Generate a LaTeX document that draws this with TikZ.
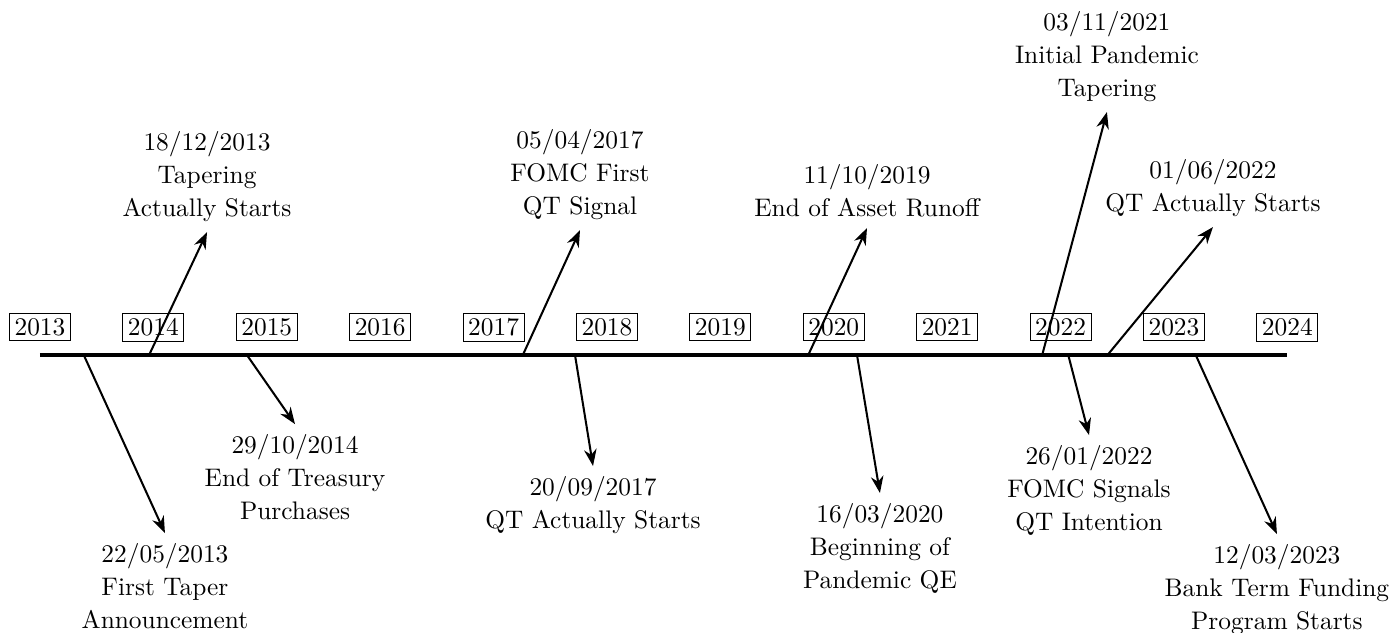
\documentclass[tikz,border=0pt]{standalone}
\usepackage{tikz}
\usetikzlibrary{arrows.meta}

\begin{document}
\begin{tikzpicture}[
  x=44.65pt, y=1pt,
  yr/.style={draw,inner sep=2pt,font=\fontsize{10}{13}\selectfont},
  ev/.style={align=center,inner sep=4pt,font=\fontsize{10}{13}\selectfont},
  axis/.style={line width=1.6pt},
  arr/.style={-{Stealth},thick}
]
\useasboundingbox (-0.3527,-109.1) rectangle (11.923,139.8);
% years
\node[yr] (y2013) at (0,11) {2013};
\node[yr] (y2014) at (1,11) {2014};
\node[yr] (y2015) at (2,11) {2015};
\node[yr] (y2016) at (3,11) {2016};
\node[yr] (y2017) at (4,11) {2017};
\node[yr] (y2018) at (5,11) {2018};
\node[yr] (y2019) at (6,11) {2019};
\node[yr] (y2020) at (7,11) {2020};
\node[yr] (y2021) at (8,11) {2021};
\node[yr] (y2022) at (9,11) {2022};
\node[yr] (y2023) at (10,11) {2023};
\node[yr] (y2024) at (11,11) {2024};
\draw[axis] (0,0) -- (11,0);
% dates on the line
\coordinate (d1) at (0.386,0);
\coordinate (d2) at (0.962,0);
\coordinate (d3) at (1.825,0);
\coordinate (d4) at (4.258,0);
\coordinate (d5) at (4.718,0);
\coordinate (d6) at (6.775,0);
\coordinate (d7) at (7.205,0);
\coordinate (d8) at (8.838,0);
\coordinate (d9) at (9.068,0);
\coordinate (d10) at (9.414,0);
\coordinate (d11) at (10.192,0);
% events below
\node[ev,anchor=north] (announce) at (1.102,-70.1) {22/05/2013\\First Taper\\Announcement};
\node[ev,anchor=north] (treasury) at (2.249,-27.2) {29/10/2014\\End of Treasury\\Purchases};
\node[ev,anchor=north] (qtstart) at (4.877,-43.7) {20/09/2017\\QT Actually Starts};
\node[ev,anchor=north] (pandqe) at (7.407,-54.3) {16/03/2020\\Beginning of\\Pandemic QE};
\node[ev,anchor=north] (qtintent) at (9.251,-31.5) {26/01/2022\\FOMC Signals\\QT Intention};
\node[ev,anchor=north] (btfp) at (10.908,-70.5) {12/03/2023\\Bank Term Funding\\Program Starts};
% events above
\node[ev,anchor=south] (taper) at (1.473,48.4) {18/12/2013\\Tapering\\Actually Starts};
\node[ev,anchor=south] (qtsignal) at (4.762,49.2) {05/04/2017\\FOMC First\\QT Signal};
\node[ev,anchor=south] (runoff) at (7.293,50.0) {11/10/2019\\End of Asset Runoff};
\node[ev,anchor=south] (pandtaper) at (9.409,95.7) {03/11/2021\\Initial Pandemic\\Tapering};
\node[ev,anchor=south] (qtstart2) at (10.344,50.4) {01/06/2022\\QT Actually Starts};
\draw[arr] (d1) -- (announce.north);
\draw[arr] (d2) -- (taper.south);
\draw[arr] (d3) -- (treasury.north);
\draw[arr] (d4) -- (qtsignal.south);
\draw[arr] (d5) -- (qtstart.north);
\draw[arr] (d6) -- (runoff.south);
\draw[arr] (d7) -- (pandqe.north);
\draw[arr] (d8) -- (pandtaper.south);
\draw[arr] (d9) -- (qtintent.north);
\draw[arr] (d10) -- (qtstart2.south);
\draw[arr] (d11) -- (btfp.north);
\end{tikzpicture}
\end{document}
